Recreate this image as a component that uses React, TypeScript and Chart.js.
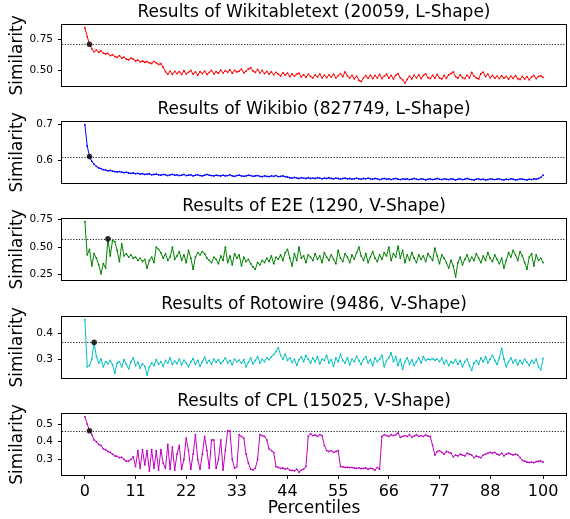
import { useEffect, useRef } from "react";
import { Chart, registerables } from "chart.js";

Chart.register(...registerables);

const FONT = "'DejaVu Sans', sans-serif";

const TITLES = [
  "Results of Wikitabletext (20059, L-Shape)",
  "Results of Wikibio (827749, L-Shape)",
  "Results of E2E (1290, V-Shape)",
  "Results of Rotowire (9486, V-Shape)",
  "Results of CPL (15025, V-Shape)",
];
const COLORS = ["#ff0000", "#0000ff", "#008000", "#00bfbf", "#bf00bf"];
// index of the highlighted point (also the dotted threshold line)
const MARK_INDEX = [2, 2, 10, 4, 2];

const Y_TICKS = [[0.5, 0.75], [0.6, 0.7], [0.25, 0.5, 0.75], [0.3, 0.4], [0.3, 0.4, 0.5]];
const Y_TICK_LABELS = [["0.50", "0.75"], ["0.6", "0.7"], ["0.25", "0.50", "0.75"], ["0.3", "0.4"], ["0.3", "0.4", "0.5"]];
const X_TICK_POS = [0, 22, 44, 66, 88, 110, 132, 154, 176, 199];
const X_TICK_LABELS = ["0", "11", "22", "33", "44", "55", "66", "77", "88", "100"];

const WIKITABLETEXT = [
  0.84, 0.77, 0.708, 0.672, 0.648, 0.662, 0.645, 0.655, 0.638, 0.63, 0.636, 0.618, 0.625, 0.61, 0.604, 0.618, 0.598, 0.605, 0.59, 0.585,
  0.598, 0.59, 0.575, 0.582, 0.568, 0.575, 0.565, 0.57, 0.56, 0.555, 0.572, 0.56, 0.548, 0.553, 0.525, 0.49, 0.47, 0.495, 0.468, 0.492,
  0.475, 0.49, 0.468, 0.498, 0.472, 0.485, 0.5, 0.47, 0.488, 0.462, 0.49, 0.475, 0.495, 0.468, 0.485, 0.5, 0.472, 0.49, 0.478, 0.502,
  0.48, 0.498, 0.485, 0.505, 0.478, 0.5, 0.488, 0.495, 0.51, 0.48, 0.495, 0.512, 0.522, 0.495, 0.485, 0.508, 0.48, 0.5, 0.475, 0.492,
  0.47, 0.49, 0.465, 0.485, 0.47, 0.455, 0.482, 0.462, 0.478, 0.45, 0.472, 0.455, 0.47, 0.478, 0.448, 0.465, 0.445, 0.47, 0.452, 0.44,
  0.465, 0.448, 0.472, 0.44, 0.462, 0.442, 0.465, 0.448, 0.47, 0.44, 0.458, 0.475, 0.45, 0.488, 0.455, 0.44, 0.46, 0.432, 0.455, 0.42,
  0.412, 0.44, 0.458, 0.438, 0.462, 0.435, 0.46, 0.44, 0.468, 0.435, 0.455, 0.47, 0.438, 0.46, 0.432, 0.462, 0.475, 0.44, 0.425, 0.4,
  0.43, 0.455, 0.432, 0.462, 0.44, 0.465, 0.435, 0.46, 0.472, 0.442, 0.435, 0.462, 0.438, 0.468, 0.44, 0.432, 0.46, 0.436, 0.465, 0.475,
  0.488, 0.45, 0.438, 0.465, 0.442, 0.435, 0.462, 0.44, 0.485, 0.455, 0.44, 0.432, 0.475, 0.487, 0.45, 0.47, 0.442, 0.46, 0.438, 0.455,
  0.435, 0.458, 0.438, 0.452, 0.43, 0.455, 0.436, 0.458, 0.434, 0.428, 0.452, 0.432, 0.45, 0.425, 0.448, 0.46, 0.435, 0.452, 0.456, 0.445,
];

const WIKIBIO = [
  0.698, 0.64, 0.611, 0.598, 0.59, 0.584, 0.58, 0.578, 0.575, 0.574, 0.572, 0.573, 0.571, 0.57, 0.569, 0.57, 0.568, 0.567, 0.568, 0.566,
  0.565, 0.566, 0.564, 0.565, 0.563, 0.564, 0.562, 0.563, 0.564, 0.561, 0.562, 0.563, 0.561, 0.56, 0.562, 0.561, 0.559, 0.561, 0.562, 0.56,
  0.561, 0.559, 0.56, 0.562, 0.559, 0.56, 0.561, 0.558, 0.56, 0.561, 0.559, 0.558, 0.56, 0.562, 0.56, 0.559, 0.558, 0.56, 0.559, 0.558,
  0.56, 0.558, 0.559, 0.561, 0.558, 0.557, 0.559, 0.56, 0.558, 0.557, 0.558, 0.56, 0.559, 0.557, 0.558, 0.559, 0.557, 0.556, 0.558, 0.557,
  0.556, 0.558, 0.557, 0.559, 0.556, 0.557, 0.558, 0.556, 0.555, 0.553, 0.552, 0.554, 0.552, 0.551, 0.553, 0.552, 0.551, 0.553, 0.551, 0.552,
  0.551, 0.553, 0.552, 0.55, 0.552, 0.551, 0.553, 0.551, 0.55, 0.552, 0.551, 0.549, 0.551, 0.552, 0.55, 0.551, 0.549, 0.55, 0.552, 0.55,
  0.549, 0.551, 0.55, 0.552, 0.55, 0.549, 0.551, 0.55, 0.548, 0.55, 0.551, 0.549, 0.55, 0.548, 0.55, 0.551, 0.549, 0.548, 0.55, 0.549,
  0.55, 0.548, 0.549, 0.551, 0.549, 0.548, 0.55, 0.549, 0.547, 0.549, 0.55, 0.548, 0.549, 0.551, 0.549, 0.548, 0.55, 0.549, 0.548, 0.55,
  0.549, 0.547, 0.549, 0.55, 0.548, 0.549, 0.551, 0.549, 0.548, 0.547, 0.549, 0.55, 0.548, 0.549, 0.547, 0.548, 0.55, 0.549, 0.548, 0.549,
  0.55, 0.548, 0.547, 0.549, 0.548, 0.55, 0.549, 0.547, 0.548, 0.55, 0.549, 0.548, 0.547, 0.549, 0.548, 0.55, 0.549, 0.551, 0.554, 0.56,
];

const E2E = [
  0.73, 0.43, 0.48, 0.33, 0.44, 0.4, 0.34, 0.26, 0.35, 0.31, 0.575, 0.42, 0.56, 0.55, 0.47, 0.37, 0.53, 0.42, 0.44, 0.41,
  0.43, 0.4, 0.41, 0.38, 0.4, 0.37, 0.39, 0.31, 0.38, 0.41, 0.36, 0.5, 0.48, 0.45, 0.4, 0.44, 0.38, 0.41, 0.5, 0.39,
  0.42, 0.46, 0.38, 0.43, 0.36, 0.47, 0.4, 0.3, 0.41, 0.45, 0.43, 0.46, 0.44, 0.4, 0.38, 0.36, 0.41, 0.39, 0.35, 0.42,
  0.38, 0.5, 0.36, 0.42, 0.34, 0.44, 0.4, 0.43, 0.33, 0.41, 0.37, 0.39, 0.35, 0.32, 0.3, 0.36, 0.34, 0.38, 0.36, 0.4,
  0.37, 0.42, 0.35, 0.41, 0.39, 0.43, 0.38, 0.45, 0.48, 0.4, 0.33, 0.44, 0.38, 0.5, 0.4, 0.42, 0.36, 0.43, 0.41, 0.38,
  0.44, 0.39, 0.42, 0.36, 0.45, 0.41, 0.38, 0.43, 0.39, 0.35, 0.47, 0.4, 0.37, 0.44, 0.41, 0.36, 0.43, 0.39, 0.45, 0.5,
  0.42, 0.38, 0.44, 0.36, 0.41, 0.46, 0.4, 0.37, 0.43, 0.39, 0.45, 0.42, 0.5, 0.38, 0.44, 0.41, 0.51, 0.4, 0.47, 0.36,
  0.43, 0.38, 0.45, 0.4, 0.36, 0.43, 0.39, 0.42, 0.37, 0.44, 0.41, 0.38, 0.49, 0.42, 0.35, 0.43, 0.4, 0.36, 0.31, 0.38,
  0.33, 0.23, 0.36, 0.41, 0.34, 0.39, 0.43, 0.37, 0.41, 0.38, 0.44, 0.4, 0.36, 0.42, 0.38, 0.45, 0.4, 0.37, 0.43, 0.39,
  0.35, 0.4, 0.31, 0.38, 0.45, 0.41, 0.47, 0.43, 0.38, 0.46, 0.42, 0.36, 0.3, 0.41, 0.44, 0.33, 0.43, 0.38, 0.4, 0.36,
];

const ROTOWIRE = [
  0.455, 0.27, 0.275, 0.3, 0.366, 0.31, 0.285, 0.3, 0.27, 0.29, 0.282, 0.295, 0.278, 0.245, 0.285, 0.29, 0.27, 0.298, 0.28, 0.262,
  0.29, 0.305, 0.275, 0.288, 0.265, 0.282, 0.272, 0.238, 0.27, 0.285, 0.275, 0.298, 0.28, 0.29, 0.272, 0.295, 0.285, 0.305, 0.28, 0.292,
  0.283, 0.3, 0.278, 0.296, 0.285, 0.27, 0.29, 0.302, 0.28, 0.295, 0.272, 0.29, 0.308, 0.285, 0.295, 0.28, 0.3, 0.288, 0.298, 0.283,
  0.292, 0.305, 0.285, 0.295, 0.278, 0.3, 0.29, 0.296, 0.285, 0.298, 0.27, 0.288, 0.305, 0.282, 0.295, 0.31, 0.285, 0.3, 0.29, 0.305,
  0.298, 0.31, 0.318, 0.33, 0.345, 0.315, 0.3, 0.32, 0.295, 0.305, 0.288, 0.3, 0.276, 0.298, 0.31, 0.29, 0.315, 0.3, 0.285, 0.305,
  0.29, 0.31, 0.282, 0.3, 0.295, 0.315, 0.285, 0.298, 0.272, 0.305, 0.29, 0.32, 0.295, 0.285, 0.305, 0.278, 0.3, 0.29, 0.312, 0.295,
  0.28, 0.3, 0.31, 0.285, 0.298, 0.275, 0.305, 0.29, 0.3, 0.315, 0.27, 0.295, 0.305, 0.325, 0.29, 0.31, 0.275, 0.3, 0.26, 0.29,
  0.305, 0.28, 0.298, 0.275, 0.29, 0.305, 0.285, 0.31, 0.295, 0.3, 0.298, 0.302, 0.296, 0.3, 0.29, 0.305, 0.282, 0.295, 0.275, 0.29,
  0.285, 0.298, 0.28, 0.295, 0.27, 0.29, 0.3, 0.275, 0.256, 0.285, 0.295, 0.28, 0.305, 0.29, 0.31, 0.285, 0.3, 0.315, 0.295, 0.28,
  0.305, 0.342, 0.3, 0.27, 0.29, 0.305, 0.285, 0.298, 0.278, 0.295, 0.282, 0.3, 0.288, 0.275, 0.295, 0.285, 0.3, 0.27, 0.258, 0.303,
];

const CPL = [
  0.541, 0.5, 0.462, 0.44, 0.41, 0.4, 0.385, 0.38, 0.36, 0.355, 0.345, 0.34, 0.33, 0.32, 0.318, 0.31, 0.312, 0.3, 0.29, 0.292,
  0.3, 0.315, 0.26, 0.35, 0.25, 0.355, 0.27, 0.35, 0.235, 0.355, 0.25, 0.35, 0.24, 0.355, 0.28, 0.25, 0.385, 0.245, 0.37, 0.24,
  0.33, 0.38, 0.245, 0.3, 0.42, 0.35, 0.245, 0.33, 0.44, 0.3, 0.245, 0.33, 0.43, 0.35, 0.25, 0.41, 0.41, 0.25, 0.3, 0.41,
  0.24, 0.35, 0.462, 0.46, 0.3, 0.25, 0.26, 0.44, 0.43, 0.42, 0.33, 0.28, 0.245, 0.24, 0.25, 0.3, 0.44, 0.435, 0.43, 0.41,
  0.36, 0.35, 0.34, 0.26, 0.255, 0.25, 0.252, 0.245, 0.25, 0.24, 0.238, 0.236, 0.245, 0.228, 0.24, 0.245, 0.26, 0.43, 0.445, 0.435,
  0.438, 0.43, 0.44, 0.435, 0.38, 0.35, 0.345, 0.35, 0.34, 0.345, 0.35, 0.26, 0.258, 0.255, 0.256, 0.254, 0.255, 0.252, 0.25, 0.253,
  0.248, 0.25, 0.252, 0.245, 0.25, 0.248, 0.24, 0.255, 0.245, 0.43, 0.44, 0.435, 0.43, 0.44, 0.435, 0.44, 0.45, 0.425, 0.43, 0.435,
  0.43, 0.44, 0.425, 0.432, 0.44, 0.43, 0.435, 0.43, 0.44, 0.432, 0.43, 0.38, 0.325, 0.345, 0.35, 0.34, 0.33, 0.345, 0.34, 0.335,
  0.315, 0.325, 0.32, 0.33, 0.325, 0.32, 0.335, 0.33, 0.325, 0.31, 0.32, 0.315, 0.31, 0.325, 0.33, 0.335, 0.34, 0.335, 0.34, 0.33,
  0.325, 0.335, 0.32, 0.33, 0.335, 0.33, 0.325, 0.33, 0.325, 0.31, 0.295, 0.29, 0.285, 0.283, 0.285, 0.282, 0.288, 0.29, 0.292, 0.285,
];

const SERIES = [WIKITABLETEXT, WIKIBIO, E2E, ROTOWIRE, CPL];

// layout of the figure (px)
const PLOT_TOP = [25, 122, 219, 317, 414];
const PLOT_H = 61;
const TITLE_H = 25;
const FIG_W = 570;
const FIG_H = 519;

const framePlugin = {
  id: "frame",
  beforeDatasetsDraw(chart: any) {
    const { ctx, chartArea: a, scales } = chart;
    const y = scales.y.getPixelForValue(chart.options.plugins.frame.threshold);
    ctx.save();
    ctx.strokeStyle = "#222";
    ctx.lineWidth = 1;
    ctx.setLineDash([1.2, 1.6]);
    ctx.beginPath();
    ctx.moveTo(a.left, Math.round(y) + 0.5);
    ctx.lineTo(a.right, Math.round(y) + 0.5);
    ctx.stroke();
    ctx.restore();
  },
  afterDraw(chart: any) {
    const { ctx, chartArea: a } = chart;
    ctx.save();
    ctx.strokeStyle = "#000";
    ctx.lineWidth = 1;
    ctx.strokeRect(Math.round(a.left) - 0.5, Math.round(a.top) - 0.5, Math.round(a.right - a.left) + 1, Math.round(a.bottom - a.top) + 1);
    ctx.restore();
  },
};

function Panel({ k }: { k: number }) {
  const canvasRef = useRef<HTMLCanvasElement>(null);
  const last = k === SERIES.length - 1;
  const top = PLOT_TOP[k] - TITLE_H;
  const height = last ? FIG_H - top : TITLE_H + PLOT_H + 11;

  useEffect(() => {
    if (!canvasRef.current) return;
    const series = SERIES[k];
    const n = series.length;
    const lo = Math.min(...series);
    const hi = Math.max(...series);
    const pad = (hi - lo) * 0.05;
    const mark = MARK_INDEX[k];

    const chart = new Chart(canvasRef.current, {
      type: "line",
      data: {
        datasets: [
          {
            data: series.map((v, i) => ({ x: i, y: v })),
            borderColor: COLORS[k],
            backgroundColor: COLORS[k],
            borderWidth: 1,
            pointRadius: 0.9,
            pointBorderWidth: 0,
            tension: 0,
            order: 2,
          },
          {
            data: [{ x: mark, y: series[mark] }],
            showLine: false,
            pointRadius: 2.8,
            pointBorderWidth: 0,
            pointBackgroundColor: "rgba(0,0,0,0.8)",
            order: 1,
          },
        ],
      },
      options: {
        animation: false,
        responsive: false,
        events: [],
        layout: { padding: { left: 0, right: 4, top: 0, bottom: last ? 0 : 11 } },
        plugins: {
          legend: { display: false },
          tooltip: { enabled: false },
          title: {
            display: true,
            text: TITLES[k],
            fullSize: false,
            color: "#000",
            font: { family: FONT, size: 17, weight: "normal" },
            padding: { top: 2, bottom: 2.6 },
          },
          frame: { threshold: series[mark] },
        } as any,
        scales: {
          x: {
            type: "linear",
            min: -(n - 1) * 0.05,
            max: (n - 1) * 1.05,
            display: last,
            afterBuildTicks: (s: any) => {
              s.ticks = X_TICK_POS.map((value) => ({ value }));
            },
            afterFit: (s: any) => {
              if (last) s.height = FIG_H - top - TITLE_H - PLOT_H;
            },
            grid: { drawOnChartArea: false, drawTicks: true, tickLength: 4, color: "#000" },
            border: { display: false },
            ticks: {
              autoSkip: false,
              maxRotation: 0,
              padding: 3,
              color: "#000",
              font: { family: FONT, size: 16 },
              callback: (_v: any, i: number) => X_TICK_LABELS[i],
            },
            title: {
              display: true,
              text: "Percentiles",
              color: "#000",
              font: { family: FONT, size: 17 },
              padding: 0,
            },
          },
          y: {
            min: lo - pad,
            max: hi + pad,
            afterBuildTicks: (s: any) => {
              s.ticks = Y_TICKS[k].map((value) => ({ value }));
            },
            afterFit: (s: any) => {
              s.width = 62;
            },
            grid: { drawOnChartArea: false, drawTicks: true, tickLength: 4, color: "#000" },
            border: { display: false },
            ticks: {
              padding: 5,
              color: "#000",
              font: { family: FONT, size: 10.5 },
              callback: (_v: any, i: number) => Y_TICK_LABELS[k][i],
            },
            title: {
              display: true,
              text: "Similarity",
              color: "#000",
              font: { family: FONT, size: 17 },
              padding: { top: 7, bottom: 0 },
            },
          },
        },
      },
      plugins: [framePlugin],
    });

    return () => chart.destroy();
  }, [k, last, top]);

  return (
    <canvas
      ref={canvasRef}
      width={FIG_W}
      height={height}
      style={{ position: "absolute", left: 0, top, width: FIG_W, height }}
    />
  );
}

export default function App() {
  return (
    <div style={{ position: "absolute", left: 0, top: 0, width: FIG_W, height: FIG_H, background: "#fff", overflow: "hidden" }}>
      {SERIES.map((_, k) => (
        <Panel key={k} k={k} />
      ))}
    </div>
  );
}
